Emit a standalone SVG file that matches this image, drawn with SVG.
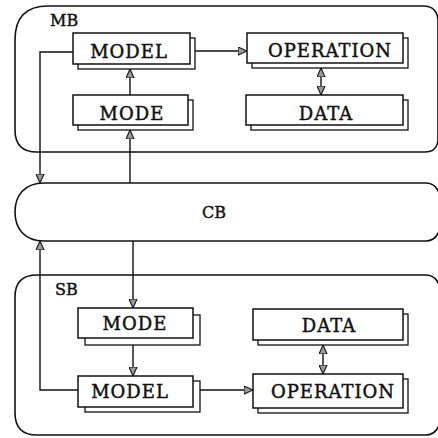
<svg xmlns="http://www.w3.org/2000/svg" width="438" height="438" viewBox="0 0 438 438">
<style>
.cont{fill:none;stroke:#111;stroke-width:1.6}
.box{fill:#fff;stroke:#111;stroke-width:1.5}
.sh{fill:#fff;stroke:#111;stroke-width:1.3}
.t{font-family:"DejaVu Serif","Liberation Serif",serif;font-size:18px;letter-spacing:1px;fill:#111;stroke:#111;stroke-width:0.45;text-anchor:middle}
.lbl{font-family:"DejaVu Serif","Liberation Serif",serif;font-size:16px;fill:#111;stroke:#111;stroke-width:0.45}
.c{fill:none;stroke:#111;stroke-width:1.4}
</style>
<defs>
<marker id="ah" viewBox="0 0 10 10" refX="10" refY="5" markerWidth="9" markerHeight="9" markerUnits="userSpaceOnUse" orient="auto-start-reverse">
<path d="M0,0.5 L10,5 L0,9.5 Z" fill="#9a9a9a" stroke="#111" stroke-width="1.2"/>
</marker>
</defs>
<g id="MB">
<path class="cont" d="M48 6 L423 6 Q437 6 438 20 L438 140 Q437 152 425 152 L37 152 Q15 152 15 130 L15 40 Q15 6 48 6 Z"/>
<text class="lbl" x="50" y="26">MB</text>
</g>
<g id="CB">
<path class="cont" d="M44 183 L426 183 Q436 183 440 195 L440 229 Q436 241 426 241 L44 241 C24 241 15 228 15 212 C15 196 24 183 44 183 Z"/>
<text class="lbl" x="214" y="218" text-anchor="middle">CB</text>
</g>
<g id="SB">
<path class="cont" d="M37 275 L426 275 Q436 275 440 287 L440 423 Q436 435 426 435 L37 435 Q15 435 15 413 L15 297 Q15 275 37 275 Z"/>
<text class="lbl" x="55" y="295">SB</text>
</g>
<g id="connectors">
<path class="c" d="M73 52 L40 52 L40 183" marker-end="url(#ah)"/>
<path class="c" d="M195 51 L247 51" marker-end="url(#ah)"/>
<path class="c" d="M130 95 L130 69" marker-end="url(#ah)"/>
<path class="c" d="M130 183 L130 130" marker-end="url(#ah)"/>
<path class="c" d="M321 68 L321 95" marker-start="url(#ah)" marker-end="url(#ah)"/>
<path class="c" d="M133 241 L133 308" marker-end="url(#ah)"/>
<path class="c" d="M133 345 L133 376" marker-end="url(#ah)"/>
<path class="c" d="M78 390 L40 390 L40 241" marker-end="url(#ah)"/>
<path class="c" d="M200 390 L253 390" marker-end="url(#ah)"/>
<path class="c" d="M323 345 L323 374" marker-start="url(#ah)" marker-end="url(#ah)"/>
</g>
<g id="mb-model">
<rect class="sh" x="78" y="38" width="117" height="31"/>
<rect class="box" x="73" y="33" width="117" height="31"/>
<text class="t" x="129" y="58">MODEL</text>
</g>
<g id="mb-mode">
<rect class="sh" x="78" y="100" width="115" height="30"/>
<rect class="box" x="73" y="95" width="115" height="30"/>
<text class="t" x="132" y="120">MODE</text>
</g>
<g id="mb-operation">
<rect class="sh" x="252" y="38" width="156" height="30"/>
<rect class="box" x="247" y="33" width="156" height="30"/>
<text class="t" x="330" y="57">OPERATION</text>
</g>
<g id="mb-data">
<rect class="sh" x="251" y="100" width="157" height="30"/>
<rect class="box" x="246" y="95" width="157" height="30"/>
<text class="t" x="326" y="120">DATA</text>
</g>
<g id="sb-mode">
<rect class="sh" x="85" y="315" width="115" height="30"/>
<rect class="box" x="78" y="308" width="115" height="30"/>
<text class="t" x="135" y="330">MODE</text>
</g>
<g id="sb-model">
<rect class="sh" x="85" y="381" width="115" height="31"/>
<rect class="box" x="78" y="376" width="115" height="31"/>
<text class="t" x="130" y="398">MODEL</text>
</g>
<g id="sb-data">
<rect class="sh" x="258" y="314" width="150" height="31"/>
<rect class="box" x="253" y="309" width="150" height="31"/>
<text class="t" x="329" y="332">DATA</text>
</g>
<g id="sb-operation">
<rect class="sh" x="258" y="379" width="150" height="34"/>
<rect class="box" x="253" y="374" width="150" height="34"/>
<text class="t" x="333" y="398">OPERATION</text>
</g>
</svg>
